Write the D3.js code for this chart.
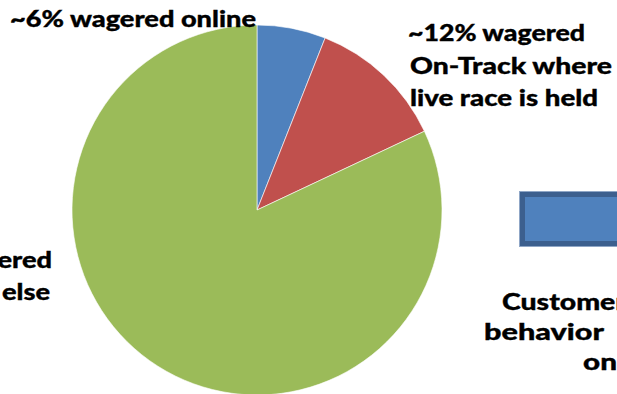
<!DOCTYPE html>
<html>
<head>
<meta charset="utf-8">
<script src="https://cdn.jsdelivr.net/npm/d3@7"></script>
<style>
  html, body { margin: 0; padding: 0; background: #ffffff; overflow: hidden; }
  svg { display: block; }
  text { font-family: Lato, "Open Sans", sans-serif; font-weight: 900; fill: #000; stroke: #000; stroke-width: 0.35px; }
</style>
</head>
<body>
<svg id="chart" width="617" height="394"></svg>
<script>
// Share of wagering by location (percent)
const categories = ["Online", "On-Track", "Elsewhere"];
const shares = [6, 12, 82];
const sliceColors = ["#4f81bd", "#c0504d", "#9bbb59"];

// Annotation text, one entry per line
const onlineLabel = ["~6% wagered online"];
const onTrackLabel = ["~12% wagered", "On-Track where", "live race is held"];
const elsewhereLabel = ["~82% wagered", "somewhere else"];
const behaviorLabel = ["Customer", "behavior", "online"];

const svg = d3.select("#chart");
const cx = 257, cy = 210, radius = 185;

const pie = d3.pie().sort(null).value(d => d);
const arc = d3.arc().innerRadius(0).outerRadius(radius);

svg.append("g")
  .attr("transform", `translate(${cx},${cy})`)
  .selectAll("path")
  .data(pie(shares))
  .join("path")
  .attr("d", arc)
  .attr("fill", (d, i) => sliceColors[i])
  .attr("stroke", "#ffffff")
  .attr("stroke-width", 0.6);

const fontSize = 23;

// Horizontal stretch that gives the labels a wide, humanist look
const probe = svg.append("text").attr("font-size", fontSize).text(onlineLabel[0]);
const stretch = 246 / probe.node().getComputedTextLength();
probe.remove();

function block(lines, xs, ys, anchor, widths) {
  const g = svg.append("g");
  lines.forEach((t, i) => {
    const el = g.append("text")
      .attr("x", xs[i])
      .attr("y", ys[i])
      .attr("font-size", fontSize)
      .attr("text-anchor", anchor)
      .text(t);
    const w = widths && widths[i] ? widths[i] : el.node().getComputedTextLength() * stretch;
    el.attr("textLength", w).attr("lengthAdjust", "spacingAndGlyphs");
  });
}

block(onlineLabel, [10], [27], "start", [246]);
block(onTrackLabel, [408, 410, 410], [41, 74, 106], "start", [177, 202, 188]);
block(elsewhereLabel, [52, 50], [268, 300], "end", null);

// Blue process box on the right
svg.append("rect")
  .attr("x", 519.5).attr("y", 191.5)
  .attr("width", 130).attr("height", 55)
  .attr("fill", "#3c5f8e")
  .attr("stroke", "#8fa6c6")
  .attr("stroke-width", 1);
svg.append("rect")
  .attr("x", 525).attr("y", 197)
  .attr("width", 130).attr("height", 44)
  .attr("fill", "#4f81bd");

block(behaviorLabel, [502, 484, 583], [310, 340, 370], "start", [124, 120, 82]);
</script>
</body>
</html>
